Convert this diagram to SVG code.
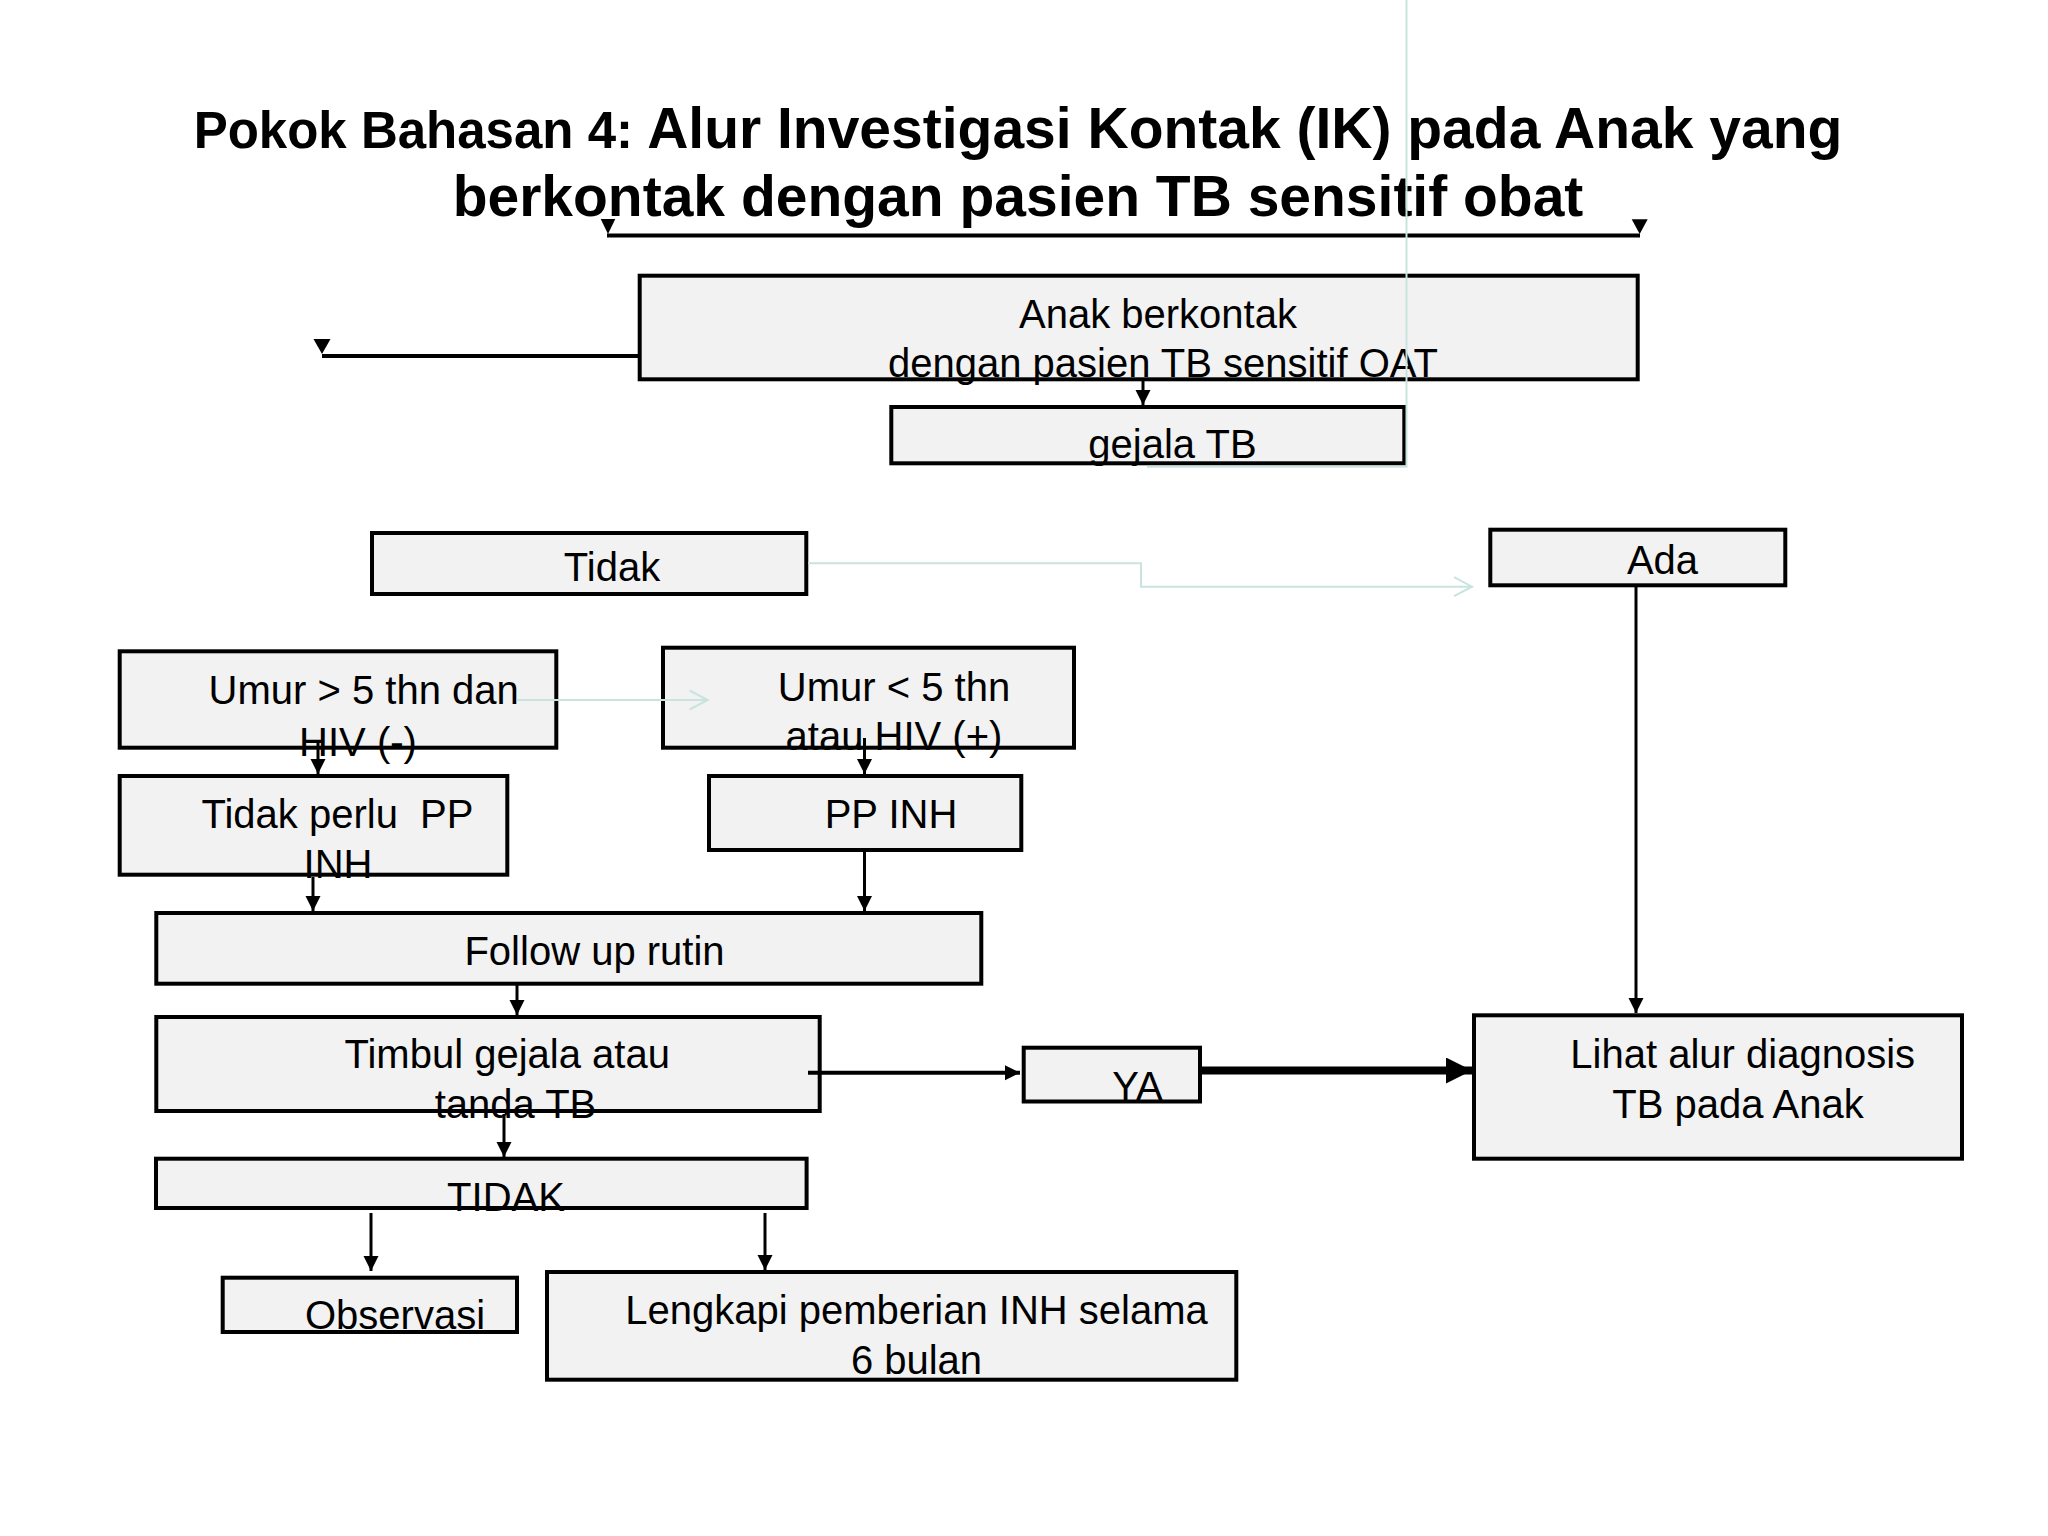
<svg xmlns="http://www.w3.org/2000/svg" width="2048" height="1536" viewBox="0 0 2048 1536">
<style>
.box{fill:#f2f2f2;stroke:#000;stroke-width:4}
.t{font-family:"Liberation Sans",Arial,sans-serif;font-size:40px;fill:#000;text-anchor:middle}
.title{font-family:"Liberation Sans",Arial,sans-serif;font-weight:bold;fill:#000;text-anchor:middle}
.ln{fill:none;stroke:#000;stroke-width:3}
.lt{fill:none;stroke:#c9e4df;stroke-width:2}
</style>
<defs>
<marker id="ah" markerUnits="userSpaceOnUse" markerWidth="16" markerHeight="16" refX="15" refY="7.5" orient="auto">
<path d="M0,0 L15,7.5 L0,15 z" fill="#000"/>
</marker>
<marker id="ahBig" markerUnits="userSpaceOnUse" markerWidth="28" markerHeight="28" refX="26" refY="13" orient="auto">
<path d="M0,0 L26,13 L0,26 z" fill="#000"/>
</marker>
<marker id="open" markerUnits="userSpaceOnUse" markerWidth="22" markerHeight="24" refX="19" refY="11" orient="auto">
<path d="M1,1.5 L19,11 L1,20.5" fill="none" stroke="#c9e4df" stroke-width="2"/>
</marker>
</defs>
<rect width="2048" height="1536" fill="#fff"/>

<g id="title">
<text class="title" x="1018" y="148"><tspan font-size="51">Pokok Bahasan 4: </tspan><tspan font-size="57">Alur Investigasi Kontak (IK) pada Anak yang</tspan></text>
<text class="title" x="1018" y="216" font-size="57">berkontak dengan pasien TB sensitif obat</text>
</g>

<g id="node-anak">
<rect class="box" x="639.7" y="275.7" width="998" height="103.6"/>
<text class="t" x="1158" y="327.7">Anak berkontak</text>
<text class="t" x="1163" y="376.7">dengan pasien TB sensitif OAT</text>
</g>
<g id="node-gejala">
<rect class="box" x="891.3" y="407" width="513" height="56.3"/>
<text class="t" x="1172.5" y="457.7">gejala TB</text>
</g>
<g id="node-tidak">
<rect class="box" x="372" y="533" width="434.3" height="61"/>
<text class="t" x="612" y="581">Tidak</text>
</g>
<g id="node-ada">
<rect class="box" x="1490.3" y="529.7" width="295" height="55.6"/>
<text class="t" x="1662.5" y="574">Ada</text>
</g>
<g id="node-umur-lebih5">
<rect class="box" x="119.7" y="651.3" width="436.6" height="96.4"/>
<text class="t" x="363.7" y="704">Umur &gt; 5 thn dan</text>
<text class="t" x="358" y="755.5">HIV (<tspan font-weight="bold">-</tspan>)</text>
</g>
<g id="node-umur-kurang5">
<rect class="box" x="663" y="647.7" width="411" height="100"/>
<text class="t" x="894" y="700.7">Umur &lt; 5 thn</text>
<text class="t" x="894" y="750">atau HIV (+)</text>
</g>
<g id="node-tidak-perlu">
<rect class="box" x="119.7" y="776" width="387.6" height="98.7"/>
<text class="t" x="337.5" y="828.3" style="white-space:pre" xml:space="preserve">Tidak perlu  PP</text>
<text class="t" x="338" y="878.3">INH</text>
</g>
<g id="node-pp-inh">
<rect class="box" x="709" y="776" width="312.3" height="74"/>
<text class="t" x="891" y="828.3">PP INH</text>
</g>
<g id="node-follow">
<rect class="box" x="156.3" y="913" width="825" height="70.7"/>
<text class="t" x="594.5" y="965">Follow up rutin</text>
</g>
<g id="node-timbul">
<rect class="box" x="156.3" y="1017" width="663.4" height="94"/>
<text class="t" x="507.2" y="1068.3">Timbul gejala atau</text>
<text class="t" x="515.5" y="1118.3">tanda TB</text>
</g>
<g id="node-ya">
<rect class="box" x="1023.7" y="1047.7" width="176.3" height="53.8"/>
<text class="t" x="1137.5" y="1100">YA</text>
</g>
<g id="node-lihat">
<rect class="box" x="1474" y="1015.3" width="488" height="143.4"/>
<text class="t" x="1742.7" y="1068.3">Lihat alur diagnosis</text>
<text class="t" x="1738" y="1118.3">TB pada Anak</text>
</g>
<g id="node-tidak2">
<rect class="box" x="156" y="1158.7" width="650.6" height="49.3"/>
<text class="t" x="506" y="1211">TIDAK</text>
</g>
<g id="node-observasi">
<rect class="box" x="222.7" y="1277.7" width="294.3" height="54.3"/>
<text class="t" x="395" y="1329.3">Observasi</text>
</g>
<g id="node-lengkapi">
<rect class="box" x="547" y="1272" width="689.3" height="107.7"/>
<text class="t" x="916.5" y="1324">Lengkapi pemberian INH selama</text>
<text class="t" x="916.5" y="1374">6 bulan</text>
</g>

<g id="connectors">
<line x1="607" y1="235.5" x2="1640" y2="235.5" stroke="#000" stroke-width="4"/>
<path d="M600.7,219 L615.3,219 L608,234 z" fill="#000"/>
<path d="M1631.7,219.3 L1647.7,219.3 L1639.7,234 z" fill="#000"/>
<line x1="638" y1="356" x2="322" y2="356" stroke="#000" stroke-width="4"/>
<path d="M313.5,339 L330.5,339 L322,354 z" fill="#000"/>
<path class="lt" d="M1147,466.7 L1406.5,466.7 L1406.5,0"/>
<path class="lt" d="M808,563.3 L1141,563.3 L1141,586.7 L1472,586.7" marker-end="url(#open)"/>
<path class="lt" d="M516.7,700 L707.7,700" marker-end="url(#open)"/>
<line class="ln" x1="1143" y1="381" x2="1143" y2="405" marker-end="url(#ah)"/>
<line class="ln" x1="318" y1="742" x2="318" y2="774" marker-end="url(#ah)"/>
<line class="ln" x1="864.5" y1="738" x2="864.5" y2="774" marker-end="url(#ah)"/>
<line class="ln" x1="313" y1="877" x2="313" y2="911" marker-end="url(#ah)"/>
<line class="ln" x1="864.5" y1="852" x2="864.5" y2="911" marker-end="url(#ah)"/>
<line class="ln" x1="517" y1="985" x2="517" y2="1015" marker-end="url(#ah)"/>
<line class="ln" x1="504" y1="1114" x2="504" y2="1157" marker-end="url(#ah)"/>
<line class="ln" x1="371" y1="1213" x2="371" y2="1271" marker-end="url(#ah)"/>
<line class="ln" x1="765" y1="1213" x2="765" y2="1270" marker-end="url(#ah)"/>
<line class="ln" x1="1636" y1="587" x2="1636" y2="1013" marker-end="url(#ah)"/>
<line x1="808" y1="1072.7" x2="1020" y2="1072.7" stroke="#000" stroke-width="4" marker-end="url(#ah)"/>
<line x1="1200" y1="1070.5" x2="1472" y2="1070.5" stroke="#000" stroke-width="8" marker-end="url(#ahBig)"/>
</g>
</svg>
